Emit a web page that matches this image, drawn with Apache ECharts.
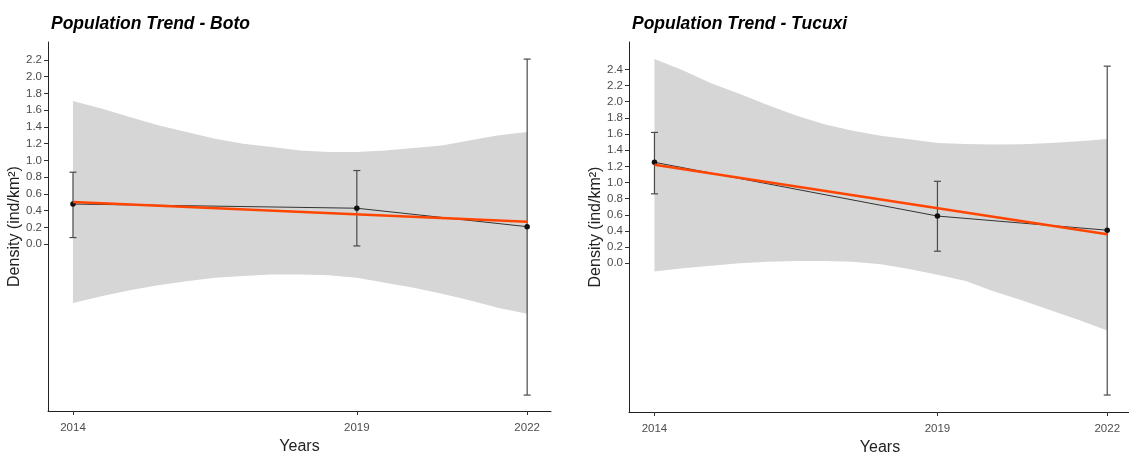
<!DOCTYPE html>
<html>
<head>
<meta charset="utf-8">
<script src="https://cdn.jsdelivr.net/npm/echarts@6/dist/echarts.min.js"></script>
<style>
  html, body { margin: 0; padding: 0; background: #fff; }
  #chart { width: 1129px; height: 455px; }
</style>
</head>
<body>
<div id="chart"></div>
<script>
// survey years
const years = [2014, 2019, 2022];

// Boto: density with error bar limits
const botoDensity = [0.48, 0.43, 0.21];
const botoErrLow = [0.08, -0.02, -1.80];
const botoErrHigh = [0.86, 0.88, 2.21];
// fitted trend at first / last year
const trendYears = [2014, 2022];
const botoTrend = [0.505, 0.27];

// Tucuxi
const tucuxiDensity = [1.25, 0.585, 0.41];
const tucuxiErrLow = [0.86, 0.15, -1.63];
const tucuxiErrHigh = [1.62, 1.015, 2.44];
const tucuxiTrend = [1.22, 0.36];

// confidence band
const bandYears = [2014, 2014.5, 2015, 2015.5, 2016, 2016.5, 2017, 2017.5, 2018,
    2018.5, 2019, 2019.5, 2020, 2020.5, 2021, 2021.5, 2022];
const botoBandHigh = [1.71, 1.62, 1.52, 1.42, 1.34, 1.26, 1.20, 1.16, 1.12,
    1.10, 1.10, 1.12, 1.15, 1.18, 1.24, 1.30, 1.34];
const botoBandLow = [-0.70, -0.62, -0.55, -0.49, -0.44, -0.40, -0.38, -0.36, -0.36,
    -0.37, -0.40, -0.46, -0.52, -0.59, -0.67, -0.76, -0.83];
const tucuxiBandHigh = [2.53, 2.39, 2.23, 2.10, 1.96, 1.83, 1.72, 1.64, 1.58,
    1.535, 1.49, 1.477, 1.47, 1.475, 1.49, 1.51, 1.54];
const tucuxiBandLow = [-0.10, -0.06, -0.03, 0.00, 0.02, 0.03, 0.03, 0.02, -0.01,
    -0.07, -0.14, -0.22, -0.35, -0.46, -0.58, -0.70, -0.83];

// tick labels
const botoTicks = [0, 0.2, 0.4, 0.6, 0.8, 1.0, 1.2, 1.4, 1.6, 1.8, 2.0, 2.2];
const tucuxiTicks = [0, 0.2, 0.4, 0.6, 0.8, 1.0, 1.2, 1.4, 1.6, 1.8, 2.0, 2.2, 2.4];

const chart = echarts.init(document.getElementById('chart'));

function pairs(xs, ys) {
    return xs.map((x, i) => [x, ys[i]]);
}

function bandSeries(idx, lo, hi) {
    return {
        type: 'custom',
        xAxisIndex: idx,
        yAxisIndex: idx,
        silent: true,
        z: 1,
        data: bandYears.map((x, i) => [x, lo[i], hi[i]]),
        encode: { x: 0, y: [1, 2] },
        renderItem: (params, api) => {
            if (params.dataIndex !== 0) return null;
            const pts = [];
            bandYears.forEach((x, i) => pts.push(api.coord([x, hi[i]])));
            for (let i = bandYears.length - 1; i >= 0; i--) {
                pts.push(api.coord([bandYears[i], lo[i]]));
            }
            return {
                type: 'polygon',
                shape: { points: pts },
                style: { fill: '#d6d6d6' }
            };
        }
    };
}

function errorSeries(idx, lo, hi) {
    return {
        type: 'custom',
        xAxisIndex: idx,
        yAxisIndex: idx,
        silent: true,
        z: 3,
        data: years.map((x, i) => [x, lo[i], hi[i]]),
        encode: { x: 0, y: [1, 2] },
        renderItem: (params, api) => {
            const top = api.coord([api.value(0), api.value(2)]);
            const bot = api.coord([api.value(0), api.value(1)]);
            const w = 3.5;
            const st = { stroke: '#4a4a4a', lineWidth: 1.2 };
            return {
                type: 'group',
                children: [
                    { type: 'line', shape: { x1: top[0], y1: top[1], x2: bot[0], y2: bot[1] }, style: st },
                    { type: 'line', shape: { x1: top[0] - w, y1: top[1], x2: top[0] + w, y2: top[1] }, style: st },
                    { type: 'line', shape: { x1: bot[0] - w, y1: bot[1], x2: bot[0] + w, y2: bot[1] }, style: st }
                ]
            };
        }
    };
}

function pointSeries(idx, vals) {
    return {
        type: 'line',
        xAxisIndex: idx,
        yAxisIndex: idx,
        z: 4,
        data: pairs(years, vals),
        symbol: 'circle',
        symbolSize: 5.5,
        itemStyle: { color: '#111' },
        lineStyle: { color: '#333', width: 1 }
    };
}

function trendSeries(idx, vals) {
    return {
        type: 'line',
        xAxisIndex: idx,
        yAxisIndex: idx,
        z: 5,
        data: pairs(trendYears, vals),
        symbol: 'none',
        lineStyle: { color: '#ff4500', width: 2.5 }
    };
}

function xAxisFor(idx, min, max) {
    return {
        type: 'value',
        gridIndex: idx,
        min: min,
        max: max,
        name: 'Years',
        nameLocation: 'middle',
        nameGap: 22,
        nameTextStyle: { color: '#222', fontSize: 16, fontFamily: 'Liberation Sans' },
        splitLine: { show: false },
        axisLine: { onZero: false, lineStyle: { color: '#222', width: 1 } },
        axisTick: { customValues: years, length: 4, lineStyle: { color: '#333' } },
        axisLabel: {
            customValues: years,
            formatter: v => String(v),
            color: '#4d4d4d',
            fontSize: 11.5,
            margin: 11,
            fontFamily: 'Liberation Sans'
        }
    };
}

function yAxisFor(idx, min, max, ticks) {
    return {
        type: 'value',
        gridIndex: idx,
        min: min,
        max: max,
        name: 'Density (ind/km²)',
        nameLocation: 'middle',
        nameGap: 23,
        nameTextStyle: { color: '#222', fontSize: 16, fontFamily: 'Liberation Sans' },
        splitLine: { show: false },
        axisLine: { show: true, onZero: false, lineStyle: { color: '#222', width: 1 } },
        axisTick: { show: true, customValues: ticks, length: 4, lineStyle: { color: '#333' } },
        axisLabel: {
            customValues: ticks,
            formatter: v => v.toFixed(1),
            color: '#4d4d4d',
            fontSize: 11.5,
            margin: 6,
            fontFamily: 'Liberation Sans'
        }
    };
}

const titleStyle = {
    fontSize: 17.5,
    fontWeight: 'bold',
    fontStyle: 'italic',
    color: '#000',
    fontFamily: 'Liberation Sans'
};

chart.setOption({
    animation: false,
    backgroundColor: '#fff',
    title: [
        { text: 'Population Trend - Boto', left: 46, top: 10, textStyle: titleStyle },
        { text: 'Population Trend - Tucuxi', left: 627, top: 10, textStyle: titleStyle }
    ],
    grid: [
        { left: 48, top: 42, width: 503, height: 369, outerBoundsMode: 'none' },
        { left: 629, top: 42, width: 502, height: 370, outerBoundsMode: 'none' }
    ],
    xAxis: [
        xAxisFor(0, 2013.56, 2022.42),
        xAxisFor(1, 2013.55, 2022.42)
    ],
    yAxis: [
        yAxisFor(0, -1.99, 2.414, botoTicks),
        yAxisFor(1, -1.84, 2.739, tucuxiTicks)
    ],
    series: [
        bandSeries(0, botoBandLow, botoBandHigh),
        errorSeries(0, botoErrLow, botoErrHigh),
        pointSeries(0, botoDensity),
        trendSeries(0, botoTrend),
        bandSeries(1, tucuxiBandLow, tucuxiBandHigh),
        errorSeries(1, tucuxiErrLow, tucuxiErrHigh),
        pointSeries(1, tucuxiDensity),
        trendSeries(1, tucuxiTrend)
    ]
});
</script>
</body>
</html>
